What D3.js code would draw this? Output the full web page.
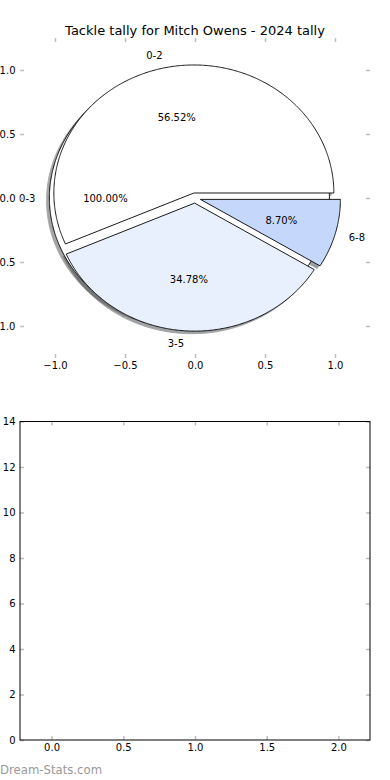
<!DOCTYPE html>
<html><head><meta charset="utf-8">
<script src="https://cdn.jsdelivr.net/npm/d3@7"></script>
<style>body{margin:0;background:#fff} svg{display:block} text{font-family:"DejaVu Sans",sans-serif}</style>
</head><body><svg id="c" width="390" height="780"></svg>
<script>
const title = "Tackle tally for Mitch Owens - 2024 tally";
const categories = ["0-2", "3-5", "6-8"];
const tackleCounts = [13, 8, 2];
const overlayCategories = ["0-3"];
const overlayCounts = [1];
const pieTicks = [-1.0, -0.5, 0.0, 0.5, 1.0];
const barXTicks = [0, 0.5, 1, 1.5, 2];
const barYTicks = [0, 2, 4, 6, 8, 10, 12, 14];
const watermark = "Dream-Stats.com";

const sliceColors = ["#ffffff", "#e9f0fd", "#c5d8fc"];
const overlayColors = ["#ffffff"];
const explode = 0.04;
const tickColor = "#bdbdbd";

const svg = d3.select("#c");

// ---- Pie axes ----
const px = d3.scaleLinear().domain([-1.25, 1.25]).range([20, 370]);
const py = d3.scaleLinear().domain([-1.25, 1.25]).range([358, 38]);

function wedges(counts, labels, colors) {
  const pie = d3.pie().sort(null).startAngle(0).endAngle(2 * Math.PI);
  const total = d3.sum(counts);
  return pie(counts).map((d, i) => {
    const t1 = d.startAngle, t2 = d.endAngle, tm = (t1 + t2) / 2;
    return {
      label: labels[i], color: colors[i], t1, t2, tm,
      cx: explode * Math.cos(tm), cy: explode * Math.sin(tm),
      full: Math.abs(t2 - t1 - 2 * Math.PI) < 1e-9,
      pct: counts[i] / total * 100
    };
  });
}
function wedgePath(w, dx = 0, dy = 0) {
  const n = Math.max(4, Math.ceil((w.t2 - w.t1) / (Math.PI / 360)));
  const pts = d3.range(n + 1).map(k => {
    const a = w.t1 + (w.t2 - w.t1) * k / n;
    return [px(w.cx + dx + Math.cos(a)), py(w.cy + dy + Math.sin(a))];
  });
  if (!w.full) pts.unshift([px(w.cx + dx), py(w.cy + dy)]);
  return d3.line()(pts) + "Z";
}

const overlay = wedges(overlayCounts, overlayCategories, overlayColors);
const main = wedges(tackleCounts, categories, sliceColors);
const all = overlay.concat(main);

// shadows (drawn below all wedges)
const shadowG = svg.append("g");
all.forEach(w => {
  const c = d3.rgb(w.color);
  const sc = d3.rgb(c.r * 0.3, c.g * 0.3, c.b * 0.3);
  shadowG.append("path").attr("d", wedgePath(w, -0.02, -0.02))
    .attr("fill", sc).attr("stroke", sc).attr("stroke-width", 1)
    .attr("opacity", 0.5);
});
// wedges
const wedgeG = svg.append("g");
all.forEach(w => {
  wedgeG.append("path").attr("d", wedgePath(w))
    .attr("fill", w.color).attr("stroke", "#000").attr("stroke-width", 0.9)
    .attr("stroke-linejoin", "miter");
});
// texts
const textG = svg.append("g").attr("font-size", 10).attr("fill", "#000");
const pf = d3.format(".2f");
all.forEach(w => {
  const lx = w.cx + 1.1 * Math.cos(w.tm), ly = w.cy + 1.1 * Math.sin(w.tm);
  textG.append("text").attr("x", px(lx)).attr("y", py(ly))
    .attr("text-anchor", lx > 0 ? "start" : "end")
    .attr("dominant-baseline", "central").text(w.label);
  const tx = w.cx + 0.6 * Math.cos(w.tm), ty = w.cy + 0.6 * Math.sin(w.tm);
  textG.append("text").attr("x", px(tx)).attr("y", py(ty))
    .attr("text-anchor", "middle")
    .attr("dominant-baseline", "central").text(pf(w.pct) + "%");
});

function styleAxis(g) {
  g.select(".domain").remove();
  g.selectAll(".tick line").attr("stroke", tickColor).attr("stroke-width", 1.5);
  g.selectAll(".tick text").attr("fill", "#000").attr("font-size", 10)
    .attr("font-family", "DejaVu Sans, sans-serif");
}
const f1 = d3.format(".1f");
svg.append("g").attr("transform", "translate(0,358)")
  .call(d3.axisBottom(px).tickValues(pieTicks).tickFormat(f1).tickSizeInner(-4).tickSizeOuter(0).tickPadding(3.5))
  .call(styleAxis);
svg.append("g").attr("transform", "translate(0,38)")
  .call(d3.axisTop(px).tickValues(pieTicks).tickFormat("").tickSizeInner(-4).tickSizeOuter(0))
  .call(styleAxis);
svg.append("g").attr("transform", "translate(20,0)")
  .call(d3.axisLeft(py).tickValues(pieTicks).tickFormat(f1).tickSizeInner(-4).tickSizeOuter(0).tickPadding(4.5))
  .call(styleAxis);
svg.append("g").attr("transform", "translate(370,0)")
  .call(d3.axisRight(py).tickValues(pieTicks).tickFormat("").tickSizeInner(-4).tickSizeOuter(0))
  .call(styleAxis);

svg.append("text").attr("x", 195).attr("y", 30).attr("text-anchor", "middle")
  .attr("dominant-baseline", "central").attr("font-size", 13).attr("fill", "#000").text(title);

// ---- Empty bar axes ----
const bx = d3.scaleLinear().domain([-0.22, 2.22]).range([20, 370]);
const by = d3.scaleLinear().domain([0, 14]).range([740, 421.5]);

svg.append("g").attr("transform", "translate(0,740)")
  .call(d3.axisBottom(bx).tickValues(barXTicks).tickFormat(f1).tickSizeInner(-4).tickSizeOuter(0).tickPadding(3.5))
  .call(styleAxis);
svg.append("g").attr("transform", "translate(0,421.5)")
  .call(d3.axisTop(bx).tickValues(barXTicks).tickFormat("").tickSizeInner(-4).tickSizeOuter(0))
  .call(styleAxis);
svg.append("g").attr("transform", "translate(20,0)")
  .call(d3.axisLeft(by).tickValues(barYTicks).tickFormat(d3.format("d")).tickSizeInner(-4).tickSizeOuter(0).tickPadding(4.5))
  .call(styleAxis);
svg.append("g").attr("transform", "translate(370,0)")
  .call(d3.axisRight(by).tickValues(barYTicks).tickFormat("").tickSizeInner(-4).tickSizeOuter(0))
  .call(styleAxis);
svg.append("rect").attr("x", bx.range()[0]).attr("y", by.range()[1])
  .attr("width", bx.range()[1] - bx.range()[0]).attr("height", by.range()[0] - by.range()[1])
  .attr("fill", "none").attr("stroke", "#000").attr("stroke-width", 1);

svg.append("text").attr("x", 0).attr("y", 774).attr("font-size", 11.7)
  .attr("fill", "#999").text(watermark);
</script></body></html>
